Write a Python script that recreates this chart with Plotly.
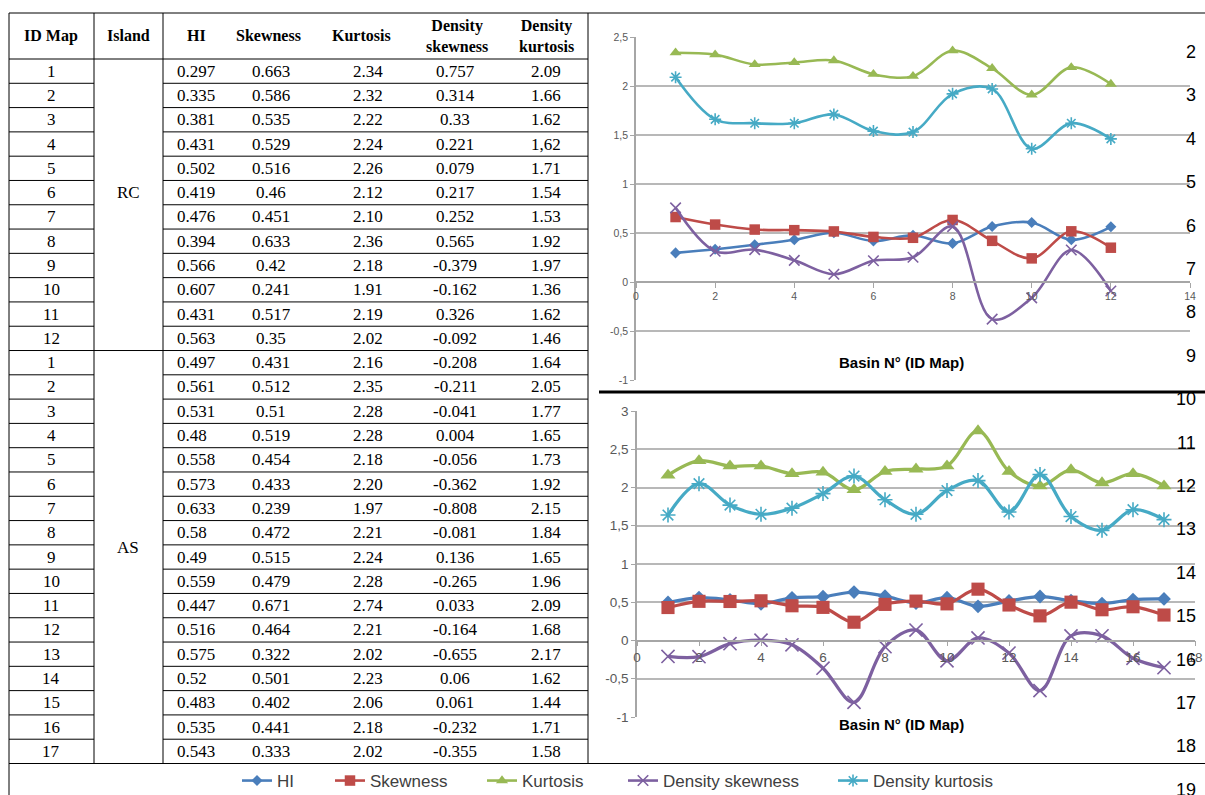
import plotly.graph_objects as go

W, H = 1205, 795

# ---------------- data (as printed in the table) ----------------
headers = ["ID Map", "Island", "HI", "Skewness", "Kurtosis", "Density<br>skewness", "Density<br>kurtosis"]
series_names = ["HI", "Skewness", "Kurtosis", "Density skewness", "Density kurtosis"]
islands = ["RC", "AS"]

rc_ids = ["1", "2", "3", "4", "5", "6", "7", "8", "9", "10", "11", "12"]
rc_hi = ["0.297", "0.335", "0.381", "0.431", "0.502", "0.419", "0.476", "0.394", "0.566", "0.607", "0.431", "0.563"]
rc_skew = ["0.663", "0.586", "0.535", "0.529", "0.516", "0.46", "0.451", "0.633", "0.42", "0.241", "0.517", "0.35"]
rc_kurt = ["2.34", "2.32", "2.22", "2.24", "2.26", "2.12", "2.10", "2.36", "2.18", "1.91", "2.19", "2.02"]
rc_dskew = ["0.757", "0.314", "0.33", "0.221", "0.079", "0.217", "0.252", "0.565", "-0.379", "-0.162", "0.326", "-0.092"]
rc_dkurt = ["2.09", "1.66", "1.62", "1,62", "1.71", "1.54", "1.53", "1.92", "1.97", "1.36", "1.62", "1.46"]

as_ids = ["1", "2", "3", "4", "5", "6", "7", "8", "9", "10", "11", "12", "13", "14", "15", "16", "17"]
as_hi = ["0.497", "0.561", "0.531", "0.48", "0.558", "0.573", "0.633", "0.58", "0.49", "0.559", "0.447", "0.516", "0.575", "0.52", "0.483", "0.535", "0.543"]
as_skew = ["0.431", "0.512", "0.51", "0.519", "0.454", "0.433", "0.239", "0.472", "0.515", "0.479", "0.671", "0.464", "0.322", "0.501", "0.402", "0.441", "0.333"]
as_kurt = ["2.16", "2.35", "2.28", "2.28", "2.18", "2.20", "1.97", "2.21", "2.24", "2.28", "2.74", "2.21", "2.02", "2.23", "2.06", "2.18", "2.02"]
as_dskew = ["-0.208", "-0.211", "-0.041", "0.004", "-0.056", "-0.362", "-0.808", "-0.081", "0.136", "-0.265", "0.033", "-0.164", "-0.655", "0.06", "0.061", "-0.232", "-0.355"]
as_dkurt = ["1.64", "2.05", "1.77", "1.65", "1.73", "1.92", "2.15", "1.84", "1.65", "1.96", "2.09", "1.68", "2.17", "1.62", "1.44", "1.71", "1.58"]

top_xticks = [0, 2, 4, 6, 8, 10, 12, 14]
bot_xticks = [0, 2, 4, 6, 8, 10, 12, 14, 16, 18]
top_yticks = [-1, -0.5, 0, 0.5, 1, 1.5, 2, 2.5]
top_ylabels = ["-1", "-0,5", "0", "0,5", "1", "1,5", "2", "2,5"]
bot_yticks = [-1, -0.5, 0, 0.5, 1, 1.5, 2, 2.5, 3]
bot_ylabels = ["-1", "-0,5", "0", "0,5", "1", "1,5", "2", "2,5", "3"]
axis_title = "Basin N° (ID Map)"
line_numbers = [str(n) for n in range(2, 20)]

# ---------------- helpers ----------------
def X(px):
    return px / W

def Y(py):
    return 1 - py / H

def num(s):
    return float(s.replace(",", "."))

colors = ["#4A7EBB", "#BE4B48", "#98B954", "#7D60A0", "#46AAC5"]
symbols = ["diamond", "square", "triangle-up", "x-thin-open", "asterisk-open"]

fig = go.Figure()

# ---------------- charts ----------------
groups = [
    (rc_ids, [rc_hi, rc_skew, rc_kurt, rc_dskew, rc_dkurt], "x", "y", 1.0),
    (as_ids, [as_hi, as_skew, as_kurt, as_dskew, as_dkurt], "x2", "y2", 1.25),
]
legend_ids = ["legend", "legend2", "legend3", "legend4", "legend5"]
for gi, (ids, cols, xa, ya, scale) in enumerate(groups):
    xs = [int(i) for i in ids]
    for si, name in enumerate(series_names):
        ys = [num(v) for v in cols[si]]
        base = [8.5, 10.5, 10.5, 10.5, 10][si]
        marker = dict(symbol=symbols[si], size=base * scale, color=colors[si])
        if si >= 3:
            marker["line"] = dict(color=colors[si], width=1.6)
        fig.add_trace(go.Scatter(
            x=xs, y=ys, name=name, mode="lines+markers",
            line=dict(color=colors[si], width=2.6 * scale, shape="spline", smoothing=1),
            marker=marker, xaxis=xa, yaxis=ya,
            showlegend=(gi == 0), legend=legend_ids[si],
        ))

# axis geometry (pixels)
top_dx = (636, 1190)
top_dy = (380, 37)   # bottom px, top px
bot_dx = (637, 1195)
bot_dy = (717, 411)
top_range = (-1, 2.5)
bot_range = (-1, 3)

def zero_pos(dy, rng):
    d0, d1 = Y(dy[0]), Y(dy[1])
    return d0 + (0 - rng[0]) / (rng[1] - rng[0]) * (d1 - d0)

axcol = "#A6A6A6"
gridcol = "#B8B8B8"
tickfont_top = dict(family="Liberation Sans, Arial, sans-serif", size=10.5, color="#595959")
tickfont_bot = dict(family="Liberation Sans, Arial, sans-serif", size=13.5, color="#595959")

fig.update_layout(
    xaxis=dict(domain=[X(top_dx[0]), X(top_dx[1])], range=[0, 14], tickvals=top_xticks,
               anchor="free", position=zero_pos(top_dy, top_range),
               showline=True, linecolor=axcol, linewidth=1.5, ticks="outside", ticklen=5,
               tickcolor=axcol, tickwidth=1.2, showgrid=False, zeroline=False, tickfont=tickfont_top),
    yaxis=dict(domain=[Y(top_dy[0]), Y(top_dy[1])], range=list(top_range), tickvals=top_yticks,
               ticktext=top_ylabels, anchor="x", showline=True, linecolor=axcol, linewidth=1.5,
               ticks="outside", ticklen=4, tickcolor=axcol, showgrid=True, gridcolor=gridcol,
               gridwidth=1.5, zeroline=False, tickfont=tickfont_top),
    xaxis2=dict(domain=[X(bot_dx[0]), X(bot_dx[1])], range=[0, 18], tickvals=bot_xticks,
                anchor="free", position=zero_pos(bot_dy, bot_range),
                showline=True, linecolor=axcol, linewidth=1.5, ticks="outside", ticklen=5,
                tickcolor=axcol, tickwidth=1.2, showgrid=False, zeroline=False, tickfont=tickfont_bot),
    yaxis2=dict(domain=[Y(bot_dy[0]), Y(bot_dy[1])], range=list(bot_range), tickvals=bot_yticks,
                ticktext=bot_ylabels, anchor="x2", showline=True, linecolor=axcol, linewidth=1.5,
                ticks="outside", ticklen=4, tickcolor=axcol, showgrid=True, gridcolor=gridcol,
                gridwidth=1.5, zeroline=False, tickfont=tickfont_bot),
)

# ---------------- legends (one per series, positioned like the reference) ----------------
legend_text_x = [277, 370, 522, 663, 873]
legfont = dict(family="Liberation Sans, Arial, sans-serif", size=17, color="#404040")
leg_layout = {}
for i, lid in enumerate(legend_ids):
    leg_layout[lid] = dict(x=X(legend_text_x[i] - 40), y=Y(781), xanchor="left", yanchor="middle",
                           orientation="h", bgcolor="rgba(0,0,0,0)", font=legfont,
                           borderwidth=0)
fig.update_layout(**leg_layout)

# ---------------- table ----------------
shapes = []
def hline(x0, x1, y, w=1, c="black"):
    shapes.append(dict(type="line", xref="paper", yref="paper", x0=X(x0), x1=X(x1),
                       y0=Y(y), y1=Y(y), line=dict(color=c, width=w)))

def vline(x, y0, y1, w=1, c="black"):
    shapes.append(dict(type="line", xref="paper", yref="paper", x0=X(x), x1=X(x),
                       y0=Y(y0), y1=Y(y1), line=dict(color=c, width=w)))

TL, IDR, ISR, TR = 9, 94, 163, 588
TOP, HDR, BOT = 13, 59, 763.5
nrows = len(rc_ids) + len(as_ids)
ROWH = (BOT - HDR) / nrows

hline(TL, W, TOP)
hline(TL, TR, HDR)
for i in range(1, nrows):
    yy = HDR + i * ROWH
    hline(TL, IDR, yy)
    hline(ISR, TR, yy)
    if i == len(rc_ids):
        hline(IDR, ISR, yy)
hline(TL, W, BOT)
vline(TL, TOP, H)
vline(IDR, TOP, BOT)
vline(ISR, TOP, BOT)
vline(TR, TOP, BOT)
# thick separator between the two charts
hline(599, W, 392, w=3)

annotations = []
serif = "Liberation Serif, Times New Roman, serif"
hdr_x = [51, 128, 196, 268, 361, 457, 546]
for hx, htxt in zip(hdr_x, headers):
    annotations.append(dict(x=X(hx), y=Y(36), xref="paper", yref="paper", text="<b>" + htxt + "</b>",
                            showarrow=False, xanchor="center", yanchor="middle",
                            font=dict(family=serif, size=16, color="black")))

all_ids = rc_ids + as_ids
all_cols = [rc_hi + as_hi, rc_skew + as_skew, rc_kurt + as_kurt, rc_dskew + as_dskew, rc_dkurt + as_dkurt]
col_x = [175, 271, 368, 455, 546]
col_anchor = ["left", "center", "center", "center", "center"]
for r in range(nrows):
    yc = HDR + (r + 0.5) * ROWH
    annotations.append(dict(x=X(51), y=Y(yc), xref="paper", yref="paper", text=all_ids[r],
                            showarrow=False, xanchor="center", yanchor="middle",
                            font=dict(family=serif, size=17, color="black")))
    for c in range(5):
        annotations.append(dict(x=X(col_x[c]), y=Y(yc), xref="paper", yref="paper", text=all_cols[c][r],
                                showarrow=False, xanchor=col_anchor[c], yanchor="middle",
                                font=dict(family=serif, size=17, color="black")))

for isl, yc in zip(islands, [193, 547]):
    annotations.append(dict(x=X(128), y=Y(yc), xref="paper", yref="paper", text=isl,
                            showarrow=False, xanchor="center", yanchor="middle",
                            font=dict(family=serif, size=17, color="black")))

# axis titles
for yc in [362, 724]:
    annotations.append(dict(x=X(901), y=Y(yc), xref="paper", yref="paper", text="<b>" + axis_title + "</b>",
                            showarrow=False, xanchor="center", yanchor="middle",
                            font=dict(family="Liberation Sans, Arial, sans-serif", size=15, color="black")))

# document line numbers on the right edge
for i, t in enumerate(line_numbers):
    annotations.append(dict(x=X(1198), y=Y(52 + i * 43.4), xref="paper", yref="paper", text=t,
                            showarrow=False, xanchor="right", yanchor="middle",
                            font=dict(family="Liberation Sans, Arial, sans-serif", size=18, color="black")))

fig.update_layout(
    width=W, height=H, margin=dict(l=0, r=0, t=0, b=0, pad=0, autoexpand=False),
    paper_bgcolor="white", plot_bgcolor="white",
    shapes=shapes, annotations=annotations,
)

fig.write_html(
    "out.html",
    config={"displayModeBar": False},
    post_script="document.body.style.margin='0';document.body.style.padding='0';"
                "document.body.style.overflow='hidden';",
)
